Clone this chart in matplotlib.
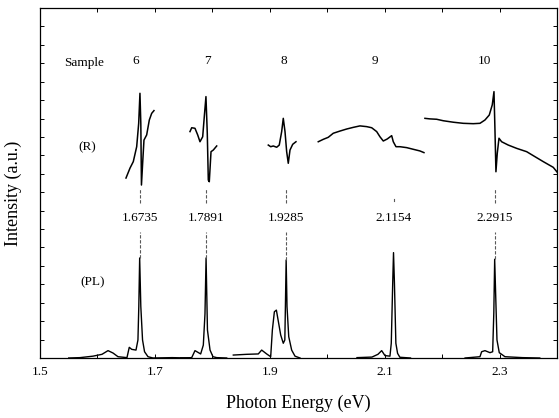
#!/usr/bin/env python3
import matplotlib
matplotlib.use("Agg")
import matplotlib.pyplot as plt
import numpy as np

plt.rcParams["font.family"] = ["Liberation Serif", "DejaVu Serif"]

# --- data (photon energy in eV, intensity in a.u.) ---

# PL spectra, one piece per sample
pl6_e = [1.5500, 1.5696, 1.5923, 1.6079, 1.6184, 1.6271, 1.6358, 1.6514, 1.6554,
         1.6596, 1.6671, 1.6705, 1.6720, 1.6735, 1.6755, 1.6785, 1.6820, 1.6880,
         1.6967, 1.7300, 1.7600]
pl6_i = [0.00, 0.02, 0.10, 0.20, 0.40, 0.27, 0.07, 0.02, 0.58,
         0.47, 0.43, 0.98, 2.80, 5.43, 2.80, 0.98, 0.34, 0.07,
         0.00, 0.02, 0.00]

pl7_e = [1.7450, 1.7641, 1.7698, 1.7797, 1.7843, 1.7872, 1.7891, 1.7915,
         1.7960, 1.8011, 1.8076, 1.8250]
pl7_i = [0.00, 0.02, 0.40, 0.22, 0.70, 2.40, 5.43, 1.52,
         0.43, 0.07, 0.02, 0.00]

pl8_e = [1.8365, 1.8600, 1.8800, 1.8859, 1.8946, 1.9016, 1.9045, 1.9080,
         1.9115, 1.9150, 1.9190, 1.9235, 1.9262, 1.9272, 1.9285, 1.9300,
         1.9330, 1.9381, 1.9439, 1.9526]
pl8_i = [0.16, 0.20, 0.22, 0.43, 0.22, 0.07, 1.52, 2.51,
         2.60, 1.97, 1.25, 0.80, 0.98, 2.79, 5.32, 2.79,
         1.16, 0.43, 0.10, 0.00]

pl9_e = [2.0518, 2.0779, 2.0883, 2.0948, 2.1005, 2.1092, 2.1115, 2.1140,
         2.1154, 2.1170, 2.1195, 2.1225, 2.1265, 2.1450]
pl9_i = [0.02, 0.05, 0.20, 0.40, 0.13, 0.10, 0.80, 4.07,
         5.72, 4.07, 0.80, 0.25, 0.04, 0.00]

pl10_e = [2.2400, 2.2659, 2.2688, 2.2746, 2.2833, 2.2880, 2.2900, 2.2915,
          2.2935, 2.2955, 2.2995, 2.3054, 2.3094, 2.3400, 2.3700]
pl10_i = [0.00, 0.07, 0.34, 0.40, 0.29, 0.34, 2.45, 5.36,
          3.15, 0.98, 0.29, 0.16, 0.07, 0.02, 0.00]

# reflectance (R) spectra
r6_e = [1.6497, 1.6567, 1.6624, 1.6683, 1.6718, 1.6740, 1.6755, 1.6766,
        1.6790, 1.6810, 1.6857, 1.6903, 1.6944, 1.6984]
r6_i = [9.77, 10.31, 10.66, 11.47, 12.74, 14.37, 12.74, 9.39,
        10.75, 11.83, 12.11, 12.92, 13.28, 13.43]

r7_e = [1.7611, 1.7641, 1.7698, 1.7745, 1.7785, 1.7832, 1.7860, 1.7889,
        1.7912, 1.7930, 1.7947, 1.7977, 1.8017, 1.8076]
r7_i = [12.29, 12.50, 12.47, 12.11, 11.74, 12.01, 13.10, 14.19,
        12.20, 9.66, 9.57, 11.20, 11.29, 11.51]

r8_e = [1.8974, 1.9016, 1.9061, 1.9120, 1.9165, 1.9207, 1.9235, 1.9265,
        1.9294, 1.9322, 1.9352, 1.9399, 1.9456]
r8_i = [11.56, 11.47, 11.51, 11.44, 11.56, 12.29, 13.01, 12.29,
        11.20, 10.57, 11.29, 11.60, 11.74]

r9_e = [1.9844, 1.9931, 2.0018, 2.0105, 2.0222, 2.0338, 2.0453, 2.0570,
        2.0687, 2.0774, 2.0861, 2.0918, 2.0976, 2.1045, 2.1122, 2.1150,
        2.1197, 2.1266, 2.1383, 2.1498, 2.1614, 2.1684]
r9_i = [11.74, 11.87, 11.98, 12.20, 12.32, 12.43, 12.52, 12.60,
        12.56, 12.50, 12.29, 12.01, 11.78, 11.89, 12.07, 11.74,
        11.47, 11.47, 11.42, 11.33, 11.24, 11.15]

r10_e = [2.1701, 2.1788, 2.1905, 2.2020, 2.2194, 2.2368, 2.2542, 2.2659,
         2.2746, 2.2821, 2.2873, 2.2903, 2.2920, 2.2937, 2.2960, 2.2990,
         2.3036, 2.3151, 2.3298, 2.3472, 2.3616, 2.3761, 2.3935, 2.4000]
r10_i = [13.01, 12.98, 12.96, 12.88, 12.80, 12.74, 12.72, 12.74,
         12.92, 13.19, 13.74, 14.46, 12.38, 10.11, 11.11, 11.93,
         11.74, 11.56, 11.38, 11.20, 10.93, 10.66, 10.35, 10.10]

samples = ["6", "7", "8", "9", "10"]
sample_e = [1.667, 1.791, 1.925, 2.083, 2.273]
peak_e = [1.6735, 1.7891, 1.9285, 2.1154, 2.2915]
peak_labels = ["1.6735", "1.7891", "1.9285", "2.1154", "2.2915"]
peak_top = [5.43, 5.43, 5.32, 5.72, 5.36]

xticks = [1.5, 1.7, 1.9, 2.1, 2.3]


def main():
    fig = plt.figure(figsize=(5.59, 4.18), dpi=100)
    ax = fig.add_axes([40 / 559, 60 / 418, 517 / 559, 350 / 418])

    pl = [(pl6_e, pl6_i), (pl7_e, pl7_i), (pl8_e, pl8_i),
          (pl9_e, pl9_i), (pl10_e, pl10_i)]
    refl = [(r6_e, r6_i), (r7_e, r7_i), (r8_e, r8_i),
            (r9_e, r9_i), (r10_e, r10_i)]
    for e, i in pl:
        ax.plot(e, i, color="black", lw=1.0)
    for e, i in refl:
        ax.plot(e, i, color="black", lw=1.1)

    # dashed markers linking R and PL features
    for k, (e, top) in enumerate(zip(peak_e, peak_top)):
        if samples[k] == "9":
            ax.plot([e, e], [8.55, 8.65], color="0.35", lw=0.8)
        else:
            ax.plot([e, e], [8.4, 9.2], color="0.35", lw=0.8, ls=(0, (3, 1.5)))
            ax.plot([e, e], [top, 6.85], color="0.35", lw=0.8, ls=(0, (3, 1.5)))
        ax.text(e, 7.6, peak_labels[k], ha="center", va="center", fontsize=9.5)

    ax.text(1.577, 16.0, "Sample", ha="center", va="center", fontsize=9.5)
    for s, e in zip(samples, sample_e):
        ax.text(e, 16.1, s, ha="center", va="center", fontsize=9.5)
    ax.text(1.583, 11.45, "(R)", ha="center", va="center", fontsize=9.5)
    ax.text(1.592, 4.13, "(PL)", ha="center", va="center", fontsize=9.5)

    ax.set_xlim(1.5, 2.4)
    ax.set_ylim(0, 19)
    ax.set_xticks(xticks)
    ax.set_xticklabels([f"{t:.1f}" for t in xticks], fontsize=9.5)
    ax.set_xticks(np.arange(1.6, 2.4, 0.2), minor=True)
    ax.set_yticks(np.arange(0, 20, 1))
    ax.set_yticklabels([])
    ax.tick_params(axis="both", which="both", direction="in",
                   top=True, right=True, length=3, width=0.7)
    ax.tick_params(axis="x", pad=6)
    for sp in ax.spines.values():
        sp.set_linewidth(0.9)

    ax.set_xlabel("Photon Energy (eV)", fontsize=13)
    ax.xaxis.set_label_coords(0.5, -0.105)
    ax.set_ylabel("Intensity (a.u.)", fontsize=13)
    ax.yaxis.set_label_coords(-0.034, 0.47)

    fig.savefig("out.png", dpi=100)


if __name__ == "__main__":
    main()
